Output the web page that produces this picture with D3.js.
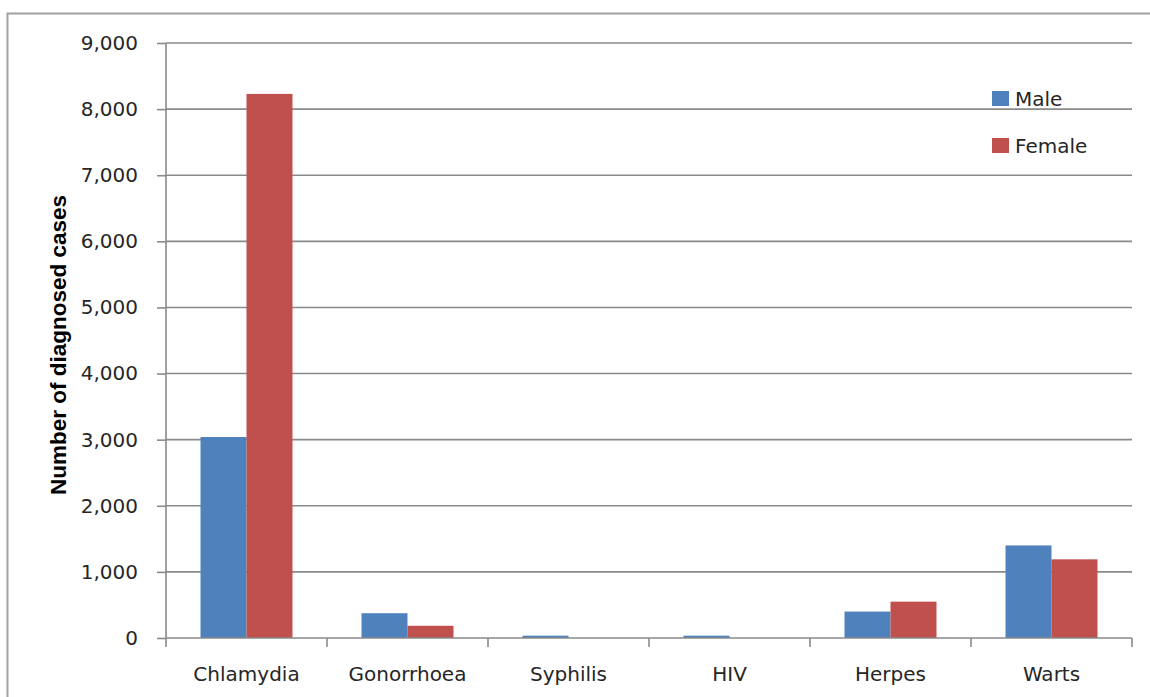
<!DOCTYPE html>
<html>
<head>
<meta charset="utf-8">
<script src="https://cdn.jsdelivr.net/npm/d3@7"></script>
<style>
  html, body { margin: 0; padding: 0; background: #fff; overflow: hidden; }
  svg { display: block; }
</style>
</head>
<body>
<svg id="chart" width="1150" height="697"></svg>
<script>
// Diagnosed STI cases by infection and sex
const categories = ["Chlamydia", "Gonorrhoea", "Syphilis", "HIV", "Herpes", "Warts"];
const seriesNames = ["Male", "Female"];
const maleValues = [3040, 375, 35, 35, 400, 1400];
const femaleValues = [8230, 185, 0, 0, 550, 1190];
const yTickValues = [0, 1000, 2000, 3000, 4000, 5000, 6000, 7000, 8000, 9000];
const seriesColors = ["#4F81BD", "#C0504D"];

const rows = categories.map((c, i) => ({ category: c, values: [maleValues[i], femaleValues[i]] }));

const svg = d3.select("#chart");
const plot = { left: 166, right: 1132, top: 43, bottom: 638 };
const gridColor = "#8a8a8a";
const textColor = "#262626";
const font = "'DejaVu Sans', Verdana, sans-serif";

// outer frame (top and left edges; the rest runs past the page)
svg.append("path")
  .attr("d", "M7.5,697V13.5H1150")
  .attr("fill", "none").attr("stroke", "#a0a0a0").attr("stroke-width", 2);

const x = d3.scaleBand()
  .domain(categories)
  .range([plot.left, plot.right])
  .paddingInner(69 / 161)
  .paddingOuter(69 / 161 / 2);

const xs = d3.scaleBand().domain(seriesNames).range([0, x.bandwidth()]);

const y = d3.scaleLinear().domain([0, 9000]).range([plot.bottom, plot.top]);

// horizontal gridlines
svg.append("g")
  .selectAll("line")
  .data(yTickValues.filter(v => v > 0))
  .join("line")
  .attr("x1", plot.left).attr("x2", plot.right)
  .attr("y1", d => y(d)).attr("y2", d => y(d))
  .attr("stroke", gridColor).attr("stroke-width", 1.6);

// bars
svg.append("g")
  .selectAll("g")
  .data(rows)
  .join("g")
  .attr("transform", d => `translate(${x(d.category)},0)`)
  .selectAll("rect")
  .data(d => d.values.map((v, i) => ({ series: seriesNames[i], value: v, i })))
  .join("rect")
  .attr("x", d => xs(d.series))
  .attr("width", xs.bandwidth())
  .attr("y", d => y(d.value))
  .attr("height", d => y(0) - y(d.value))
  .attr("fill", d => seriesColors[d.i]);

// y axis
const yAxis = svg.append("g")
  .attr("transform", `translate(${plot.left},0)`)
  .call(d3.axisLeft(y).tickValues(yTickValues).tickFormat(d3.format(",")).tickSize(9).tickPadding(19));
yAxis.select(".domain").attr("stroke", gridColor).attr("stroke-width", 1.6)
  .attr("d", `M0,${plot.top}V${plot.bottom}`);
yAxis.selectAll(".tick line").attr("stroke", gridColor).attr("stroke-width", 1.6);
yAxis.selectAll(".tick text")
  .attr("fill", textColor).style("font-family", font).style("font-size", "20px");

// x axis with ticks at category boundaries
const xAxisG = svg.append("g").attr("transform", `translate(0,${plot.bottom})`);
xAxisG.append("line")
  .attr("x1", plot.left).attr("x2", plot.right)
  .attr("stroke", gridColor).attr("stroke-width", 1.6);
const boundaries = categories.map(c => x(c) - x.step() * x.paddingInner() / 2)
  .concat([plot.right]);
xAxisG.selectAll("line.tick")
  .data(boundaries)
  .join("line")
  .attr("class", "tick")
  .attr("x1", d => d).attr("x2", d => d)
  .attr("y1", 0).attr("y2", 9)
  .attr("stroke", gridColor).attr("stroke-width", 1.6);
xAxisG.selectAll("text")
  .data(categories)
  .join("text")
  .attr("x", d => x(d) + x.bandwidth() / 2)
  .attr("y", 43)
  .attr("text-anchor", "middle")
  .attr("fill", textColor)
  .style("font-family", font).style("font-size", "20px")
  .text(d => d);

// y axis title
svg.append("text")
  .attr("transform", `translate(66,345) rotate(-90)`)
  .attr("text-anchor", "middle")
  .attr("fill", "#000")
  .style("font-family", "'Liberation Sans', Arial, sans-serif")
  .style("font-weight", "bold")
  .style("font-size", "22.5px")
  .text("Number of diagnosed cases");

// legend
const legend = svg.append("g")
  .selectAll("g")
  .data(seriesNames)
  .join("g")
  .attr("transform", (d, i) => `translate(992,${91 + i * 47})`);
legend.append("rect")
  .attr("width", 17).attr("height", 15)
  .attr("fill", (d, i) => seriesColors[i]);
legend.append("text")
  .attr("x", 23).attr("y", 15)
  .attr("fill", textColor)
  .style("font-family", font).style("font-size", "20px")
  .text(d => d);
</script>
</body>
</html>
